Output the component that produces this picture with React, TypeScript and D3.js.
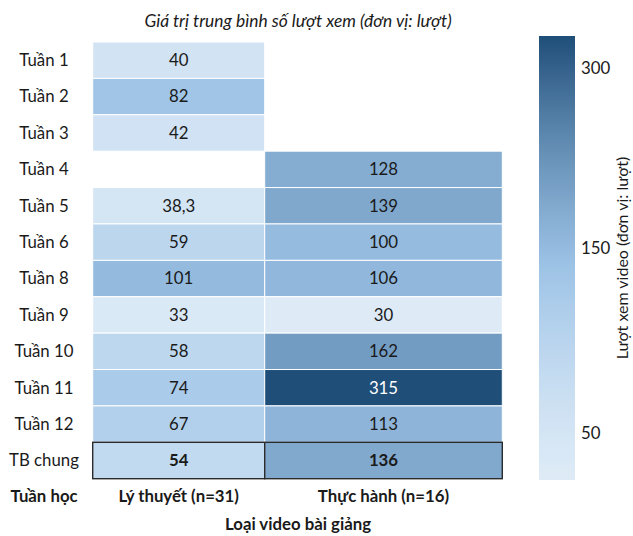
import React from "react";
import * as d3 from "d3";

const weeks = ["Tuần 1", "Tuần 2", "Tuần 3", "Tuần 4", "Tuần 5", "Tuần 6", "Tuần 8", "Tuần 9", "Tuần 10", "Tuần 11", "Tuần 12", "TB chung"];
const categories = ["Lý thuyết (n=31)", "Thực hành (n=16)"];
const theory: (number | null)[] = [40, 82, 42, null, 38.3, 59, 101, 33, 58, 74, 67, 54];
const practice: (number | null)[] = [null, null, null, 128, 139, 100, 106, 30, 162, 315, 113, 136];
const seriesValues = [theory, practice];
const colorbarTicks = [50, 150, 300];
const colorDomain = [30, 85, 315];
const colorbarDomain = [33, 138, 332];
const colorRange = ["#deebf7", "#9dc3e6", "#1f4e79"];

const W = 633, H = 536;
const top = 42, bottom = 478.7;
const colEdges = [92.7, 264.7, 502.3];
const font = "Lato, 'Open Sans', sans-serif";
const fs = 16.8;

export default function App() {
  const y = d3.scaleBand<string>().domain(weeks).range([top, bottom]).paddingInner(0);
  const color = d3.scaleLinear<string>().domain(colorDomain).range(colorRange).clamp(true);
  const cbY = d3.scaleSqrt().domain([colorbarDomain[0], colorbarDomain[2]]).range([480, 36]);
  const cbColor = d3.scaleLinear<string>().domain(colorbarDomain).range(colorRange);
  const stops = d3.range(0, 41).map((i) => {
    const yy = 36 + (444 * i) / 40;
    const v = cbY.invert(yy);
    return { off: i / 40, c: cbColor(v) };
  });
  const fmt = (v: number) => (Number.isInteger(v) ? String(v) : String(v).replace(".", ","));
  const lastRow = weeks[weeks.length - 1];
  return (
    <svg width={W} height={H} style={{ position: "absolute", left: 0, top: 0 }} fontFamily={font}>
      <defs>
        <linearGradient id="cb" x1="0" y1="0" x2="0" y2="1">
          {stops.map((s, i) => (
            <stop key={i} offset={s.off} stopColor={s.c} />
          ))}
        </linearGradient>
      </defs>
      <rect width={W} height={H} fill="#fff" />
      <text x={298} y={21} dy="0.35em" textAnchor="middle" fontStyle="italic" fontSize={17.4} fill="#1a1a1a">
        Giá trị trung bình số lượt xem (đơn vị: lượt)
      </text>
      {weeks.map((w) => (
        <text key={w} x={44} y={(y(w) as number) + y.bandwidth() / 2} dy="0.35em" textAnchor="middle" fontSize={fs} fill="#1a1a1a">
          {w}
        </text>
      ))}
      {seriesValues.map((vals, ci) =>
        vals.map((v, ri) => {
          if (v === null) return null;
          const x0 = colEdges[ci], x1 = colEdges[ci + 1];
          const yy = y(weeks[ri]) as number;
          const isLast = weeks[ri] === lastRow;
          return (
            <g key={ci + "-" + ri}>
              <rect x={x0} y={yy} width={x1 - x0} height={y.bandwidth()} fill={color(v)} stroke={isLast ? "#2b2b2b" : "#fff"} strokeWidth={isLast ? 1.4 : 1} />
              <text x={(x0 + x1) / 2} y={yy + y.bandwidth() / 2} dy="0.35em" textAnchor="middle" fontSize={fs} fontWeight={isLast ? "bold" : "normal"} fill={v > 250 ? "#fff" : "#1a1a1a"}>
                {fmt(v)}
              </text>
            </g>
          );
        })
      )}
      <text x={44} y={496} dy="0.35em" textAnchor="middle" fontSize={fs} fontWeight="bold" fill="#1a1a1a">Tuần học</text>
      {categories.map((c, i) => (
        <text key={c} x={(colEdges[i] + colEdges[i + 1]) / 2} y={496} dy="0.35em" textAnchor="middle" fontSize={fs} fontWeight="bold" fill="#1a1a1a">
          {c}
        </text>
      ))}
      <text x={298} y={524} dy="0.35em" textAnchor="middle" fontSize={fs} fontWeight="bold" fill="#1a1a1a">Loại video bài giảng</text>
      <rect x={539} y={36} width={36} height={444} fill="url(#cb)" />
      {colorbarTicks.map((t) => (
        <text key={t} x={581} y={cbY(t)} dy="0.35em" fontSize={fs} fill="#1a1a1a">{t}</text>
      ))}
      <text transform={`translate(622,258) rotate(-90)`} textAnchor="middle" dy="0.35em" fontSize={16} fill="#1a1a1a">
        Lượt xem video (đơn vị: lượt)
      </text>
    </svg>
  );
}
